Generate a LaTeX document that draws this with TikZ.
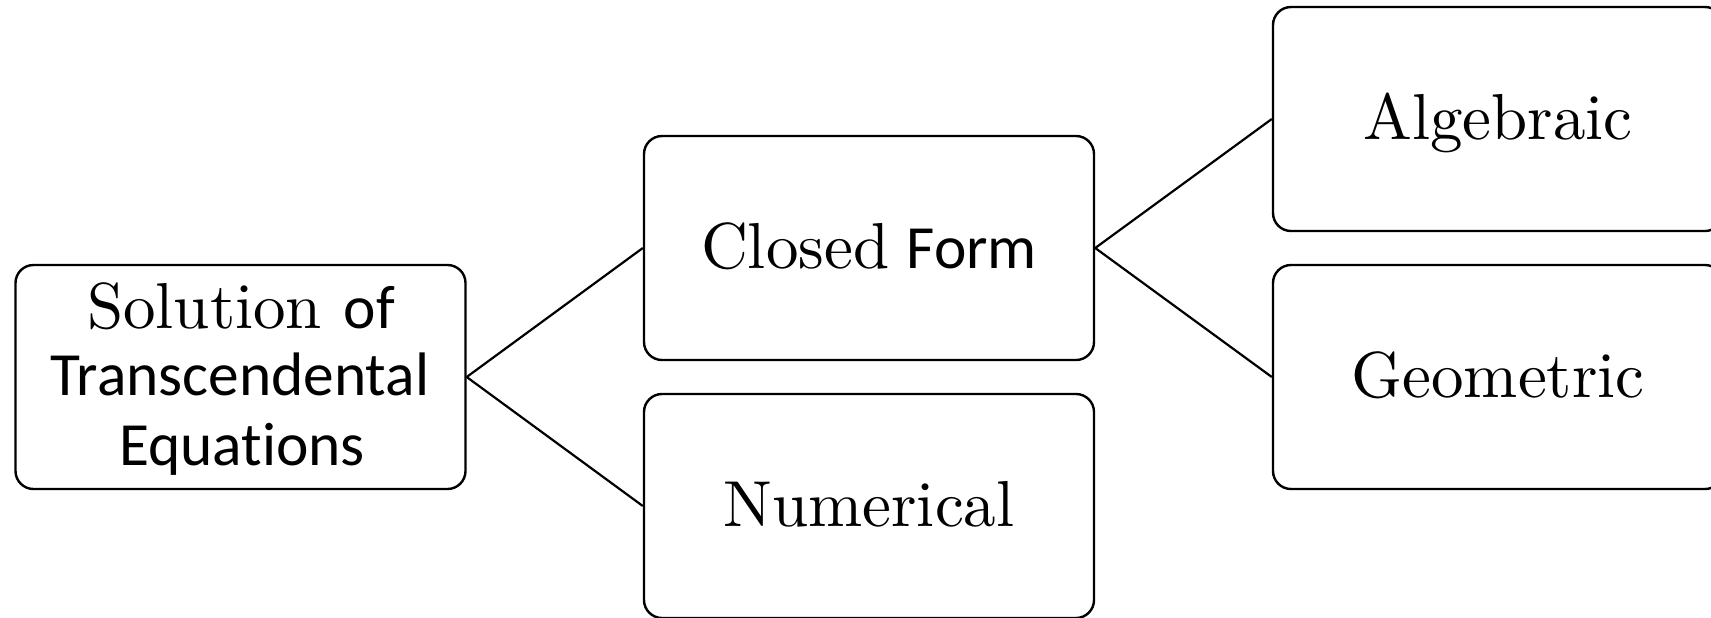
\documentclass[tikz,border=0pt]{standalone}
\usepackage{fontspec}
\newfontfamily\calib{Carlito}[Ligatures=NoCommon]
\newfontfamily\lmten{lmroman10-regular}[Extension=.otf]
\newcommand{\serifsz}{\lmten\fontsize{32.5}{38}\selectfont}
\newcommand{\sanssz}{\calib\fontsize{30.7}{36}\selectfont}
\begin{document}
\begin{tikzpicture}[x=0.5pt,y=-0.5pt,
  box/.style={draw, line width=1.2pt, rounded corners=9pt,
    minimum width=225pt, minimum height=112pt, inner sep=0pt,
    text height=25pt, text depth=5pt},
  link/.style={line width=1.1pt},
  lbl/.style={anchor=base, inner sep=0pt}]
\useasboundingbox (0,0) rectangle (1711,617);
\clip (0,0) rectangle (1711,617);
\node[box] (sol) at (240.5,377) {};
\node[lbl] (sol1) at (241,328) {\serifsz Solution {\sanssz of}};
\node[lbl] (sol2) at (240,395) {\sanssz Transcendental};
\node[lbl] (sol3) at (242,465) {\sanssz Equations};
\node[box] (cf) at (869,248) {\serifsz Closed\hspace{-2pt} {\sanssz Form}};
\node[box] (num) at (869,506) {\serifsz Numerical};
\node[box] (alg) at (1498,119) {\serifsz Algebraic};
\node[box] (geo) at (1498,377) {\serifsz Geometric};
\draw[link] (sol.east) -- (cf.west);
\draw[link] (sol.east) -- (num.west);
\draw[link] (cf.east) -- (alg.west);
\draw[link] (cf.east) -- (geo.west);
\end{tikzpicture}
\end{document}
